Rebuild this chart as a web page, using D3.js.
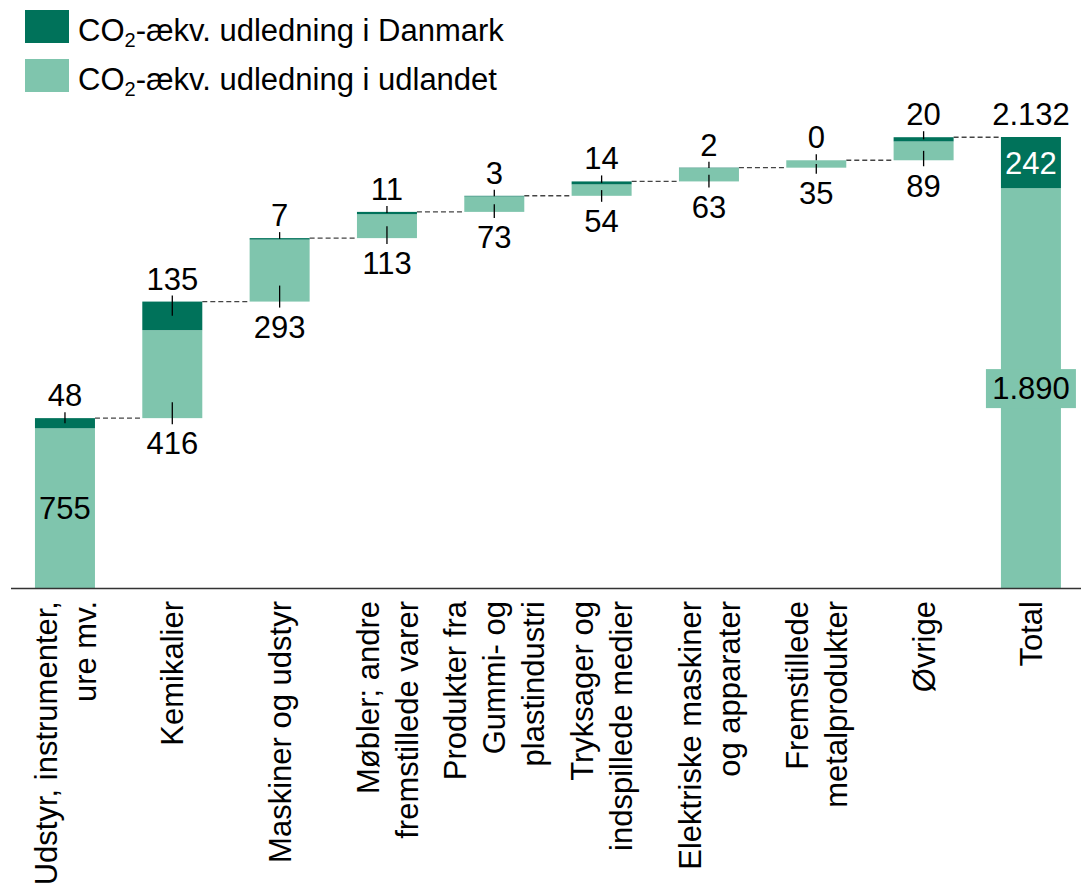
<!DOCTYPE html>
<html>
<head>
<meta charset="utf-8">
<title>CO2 waterfall</title>
<script src="https://d3js.org/d3.v7.min.js"></script>
<style>
    body { margin: 0; background: #fff; }
    text { font-family: "Liberation Sans", Arial, sans-serif; fill: #000; }
</style>
</head>
<body>
<div id="chart"></div>
<script>
    // data
    var categories = [
        ["Udstyr, instrumenter,", "ure mv."],
        ["Kemikalier"],
        ["Maskiner og udstyr"],
        ["Møbler; andre", "fremstillede varer"],
        ["Produkter fra", "Gummi- og", "plastindustri"],
        ["Tryksager og", "indspillede medier"],
        ["Elektriske maskiner", "og apparater"],
        ["Fremstillede", "metalprodukter"],
        ["Øvrige"],
        ["Total"]
    ];
    var dkValues = [48, 135, 7, 11, 3, 14, 2, 0, 20];
    var abroadValues = [755, 416, 293, 113, 73, 54, 63, 35, 89];
    var totalDk = 242;
    var totalAbroad = 1890;
    var totalAll = 2132;
    var legendLabels = ["udledning i Danmark", "udledning i udlandet"];

    var darkGreen = "#00725a",
        lightGreen = "#7fc5ad";

    var width = 1081, height = 894;
    var baseY = 588;

    var fmt = d3.formatLocale({ decimal: ",", thousands: ".", grouping: [3], currency: ["", " kr."] }).format(",");

    var svg = d3.select("#chart")
        .append("svg")
        .attr("width", width)
        .attr("height", height);

    var x = d3.scaleBand()
        .domain(d3.range(categories.length))
        .range([11.3, 1084.6])
        .paddingInner(0.441)
        .paddingOuter(0.2205);

    var y = d3.scaleLinear()
        .domain([0, totalAll])
        .range([baseY, 137]);

    var bw = x.bandwidth();

    // build the waterfall steps
    var steps = [];
    var run = 0;
    dkValues.forEach(function (dk, i) {
        var ab = abroadValues[i];
        steps.push({ i: i, start: run, abEnd: run + ab, end: run + ab + dk, dk: dk, ab: ab });
        run += ab + dk;
    });

    // connectors
    var conn = steps.map(function (s) { return s.end; });
    svg.append("g")
        .selectAll("line")
        .data(conn)
        .enter()
        .append("line")
        .attr("x1", function (d, i) { return x(i) + bw; })
        .attr("x2", function (d, i) { return x(i + 1); })
        .attr("y1", function (d) { return y(d); })
        .attr("y2", function (d) { return y(d); })
        .style("stroke", "#444")
        .style("stroke-width", 1.4)
        .style("stroke-dasharray", "5,3");

    // light (abroad) segments
    svg.append("g")
        .selectAll("rect")
        .data(steps)
        .enter()
        .append("rect")
        .attr("x", function (d) { return x(d.i); })
        .attr("width", bw)
        .attr("y", function (d) { return y(d.abEnd); })
        .attr("height", function (d) { return y(d.start) - y(d.abEnd); })
        .style("fill", lightGreen);

    // dark (Denmark) segments
    svg.append("g")
        .selectAll("rect")
        .data(steps)
        .enter()
        .append("rect")
        .attr("x", function (d) { return x(d.i); })
        .attr("width", bw)
        .attr("y", function (d) { return y(d.end); })
        .attr("height", function (d) { return y(d.abEnd) - y(d.end); })
        .style("fill", darkGreen);

    // total bar
    var ti = categories.length - 1;
    svg.append("rect")
        .attr("x", x(ti)).attr("width", bw)
        .attr("y", y(totalAbroad)).attr("height", y(0) - y(totalAbroad))
        .style("fill", lightGreen);
    svg.append("rect")
        .attr("x", x(ti)).attr("width", bw)
        .attr("y", y(totalAll)).attr("height", y(totalAbroad) - y(totalAll))
        .style("fill", darkGreen);

    var labels = svg.append("g").style("font-size", "31px");

    // value labels with little leader ticks
    steps.forEach(function (s) {
        var cx = x(s.i) + bw / 2;
        var top = y(s.end), mid = y(s.abEnd), bot = y(s.start);

        // Denmark value above bar
        labels.append("text")
            .attr("x", cx).attr("y", top - 12)
            .attr("text-anchor", "middle")
            .text(fmt(s.dk));
        svg.append("line")
            .attr("x1", cx).attr("x2", cx)
            .attr("y1", top - 6)
            .attr("y2", top + Math.min((mid - top) / 2, 15))
            .style("stroke", "#000").style("stroke-width", 1.3);

        if (s.i === 0) {
            // first bar sits on the axis: label inside
            labels.append("text")
                .attr("x", cx).attr("y", (mid + bot) / 2)
                .attr("dy", "0.36em")
                .attr("text-anchor", "middle")
                .text(fmt(s.ab));
        } else {
            labels.append("text")
                .attr("x", cx).attr("y", bot + 14)
                .attr("dy", "0.72em")
                .attr("text-anchor", "middle")
                .text(fmt(s.ab));
            svg.append("line")
                .attr("x1", cx).attr("x2", cx)
                .attr("y1", bot + 6)
                .attr("y2", bot - Math.min((bot - mid) / 2, 16))
                .style("stroke", "#000").style("stroke-width", 1.3);
        }
    });

    // total labels
    var tcx = x(ti) + bw / 2;
    labels.append("text")
        .attr("x", tcx).attr("y", y(totalAll) - 12)
        .attr("text-anchor", "middle")
        .text(fmt(totalAll));

    var dkMid = (y(totalAll) + y(totalAbroad)) / 2;
    labels.append("text")
        .attr("x", tcx).attr("y", dkMid)
        .attr("dy", "0.36em")
        .attr("text-anchor", "middle")
        .style("fill", "#fff")
        .text(fmt(totalDk));

    var abMid = (y(totalAbroad) + y(0)) / 2;
    labels.append("rect")
        .attr("x", tcx - 45).attr("width", 90)
        .attr("y", abMid - 19).attr("height", 39)
        .style("fill", lightGreen);
    labels.append("text")
        .attr("x", tcx).attr("y", abMid)
        .attr("dy", "0.36em")
        .attr("text-anchor", "middle")
        .text(fmt(totalAbroad));

    // x axis line
    svg.append("line")
        .attr("x1", 11).attr("x2", width)
        .attr("y1", baseY + 0.5).attr("y2", baseY + 0.5)
        .style("stroke", "#333")
        .style("stroke-width", 1.5);

    // rotated category labels
    var catG = svg.append("g").style("font-size", "31px");
    categories.forEach(function (lines, i) {
        var t = catG.append("text")
            .attr("transform", "translate(" + (x(i) + bw / 2) + "," + (baseY + 13) + ") rotate(-90)")
            .attr("text-anchor", "end");
        lines.forEach(function (ln, j) {
            t.append("tspan")
                .attr("x", 0)
                .attr("y", (j - (lines.length - 1) / 2) * 39)
                .attr("dy", "0.36em")
                .text(ln);
        });
    });

    // legend
    var legColors = [darkGreen, lightGreen];
    var leg = svg.append("g");
    legendLabels.forEach(function (lab, i) {
        var yy = 10 + i * 49;
        leg.append("rect")
            .attr("x", 25).attr("y", yy)
            .attr("width", 44).attr("height", 33)
            .style("fill", legColors[i]);
        var t = leg.append("text")
            .attr("x", 78).attr("y", yy + 31)
            .style("font-size", "31px");
        t.append("tspan").text("CO");
        t.append("tspan").attr("dy", 6).style("font-size", "20px").text("2");
        t.append("tspan").attr("dy", -6).text("-ækv. " + lab);
    });
</script>
</body>
</html>
